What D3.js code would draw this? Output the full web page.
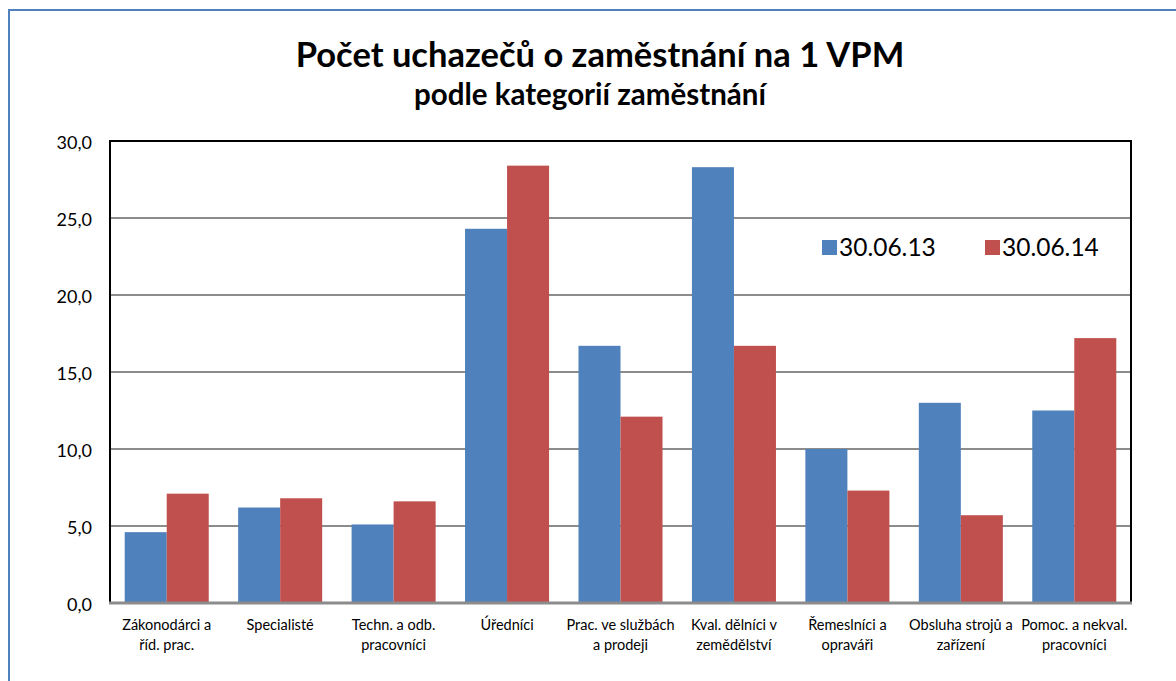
<!DOCTYPE html>
<html>
<head>
<meta charset="utf-8">
<script src="https://cdn.jsdelivr.net/npm/d3@7"></script>
<style>
  body { margin: 0; background: #fff; }
  text { font-family: Lato, "Open Sans", sans-serif; fill: #000; }
</style>
</head>
<body>
<script>
var w = 1176, h = 681;

var categories = [
    ["Zákonodárci a", "říd. prac."],
    ["Specialisté"],
    ["Techn. a odb.", "pracovníci"],
    ["Úředníci"],
    ["Prac. ve službách", "a prodeji"],
    ["Kval. dělníci v", "zemědělství"],
    ["Řemeslníci a", "opraváři"],
    ["Obsluha strojů a", "zařízení"],
    ["Pomoc. a nekval.", "pracovníci"]
];
var seriesNames = ["30.06.13", "30.06.14"];
var values2013 = [4.6, 6.2, 5.1, 24.3, 16.7, 28.3, 10.0, 13.0, 12.5];
var values2014 = [7.1, 6.8, 6.6, 28.4, 12.1, 16.7, 7.3, 5.7, 17.2];
var yTicks = [0, 5, 10, 15, 20, 25, 30];
var colors = ["#4f81bd", "#c0504d"];

var svg = d3.select("body")
    .append("svg")
    .attr("width", w)
    .attr("height", h);

// outer frame
svg.append("rect")
    .attr("x", 9)
    .attr("y", 10)
    .attr("width", w + 20)
    .attr("height", h + 20)
    .style("fill", "#fff")
    .style("stroke", "#4f81bd")
    .style("stroke-width", 2);

var plotL = 110, plotR = 1131, plotT = 141, plotB = 603;

var x = d3.scaleBand()
    .domain(d3.range(categories.length))
    .range([plotL, plotR])
    .paddingInner(0)
    .paddingOuter(0);

// two bars per category, gap on both sides
var inner = d3.scaleBand()
    .domain([0, 1])
    .range([0, x.bandwidth()])
    .paddingOuter(0.35)
    .paddingInner(0);

var y = d3.scaleLinear()
    .domain([0, 30])
    .range([plotB, plotT]);

// gridlines
svg.selectAll(".grid")
    .data(yTicks.slice(1, -1))
    .enter()
    .append("line")
    .attr("class", "grid")
    .attr("x1", plotL)
    .attr("x2", plotR)
    .attr("y1", function(d){ return y(d); })
    .attr("y2", function(d){ return y(d); })
    .style("stroke", "#8c8c8c")
    .style("stroke-width", 2);

// bars
var rows = categories.map(function(c, i){
    return [values2013[i], values2014[i]];
});

var groups = svg.selectAll(".group")
    .data(rows)
    .enter()
    .append("g")
    .attr("class", "group")
    .attr("transform", function(d, i){ return "translate(" + x(i) + ",0)"; });

groups.selectAll("rect")
    .data(function(d){ return d; })
    .enter()
    .append("rect")
    .attr("x", function(d, j){ return inner(j); })
    .attr("y", function(d){ return y(d); })
    .attr("width", inner.bandwidth())
    .attr("height", function(d){ return y(0) - y(d); })
    .style("fill", function(d, j){ return colors[j]; });

// plot border: left, top, right black
svg.append("path")
    .attr("d", "M" + plotL + "," + plotB + "V" + plotT + "H" + plotR + "V" + plotB)
    .style("fill", "none")
    .style("stroke", "#000")
    .style("stroke-width", 2);

// x axis line
svg.append("line")
    .attr("x1", plotL - 1)
    .attr("x2", plotR + 1)
    .attr("y1", plotB)
    .attr("y2", plotB)
    .style("stroke", "#8c8c8c")
    .style("stroke-width", 3);

// y axis labels
var yAxis = d3.axisLeft(y)
    .tickValues(yTicks)
    .tickSize(0)
    .tickPadding(18)
    .tickFormat(function(d){ return d3.format(".1f")(d).replace(".", ","); });

var ya = svg.append("g")
    .attr("transform", "translate(" + plotL + ",2)")
    .call(yAxis);
ya.select(".domain").remove();
ya.selectAll("text")
    .style("font-size", "18px")
    .style("font-family", "Lato, sans-serif")
    .style("fill", "#000");

// x labels
var xl = svg.selectAll(".xlabel")
    .data(categories)
    .enter()
    .append("text")
    .attr("class", "xlabel")
    .attr("text-anchor", "middle")
    .attr("y", 630)
    .style("font-size", "14.5px");

xl.selectAll("tspan")
    .data(function(d){ return d; })
    .enter()
    .append("tspan")
    .attr("x", function(d, j, nodes){
        var i = categories.indexOf(d3.select(nodes[j].parentNode).datum());
        return x(i) + x.bandwidth() / 2;
    })
    .attr("dy", function(d, j){ return j === 0 ? 0 : 20; })
    .text(function(d){ return d; });

// title
svg.append("text")
    .attr("x", 600)
    .attr("y", 67)
    .attr("text-anchor", "middle")
    .style("font-size", "34.5px")
    .style("font-weight", "bold")
    .text("Počet uchazečů o zaměstnání na 1 VPM");

svg.append("text")
    .attr("x", 590)
    .attr("y", 105)
    .attr("text-anchor", "middle")
    .style("font-size", "29.5px")
    .style("font-weight", "bold")
    .text("podle kategorií zaměstnání");

// legend
var legendX = [822, 985];
var legend = svg.selectAll(".legend")
    .data(seriesNames)
    .enter()
    .append("g")
    .attr("class", "legend")
    .attr("transform", function(d, i){ return "translate(" + legendX[i] + ",240)"; });

legend.append("rect")
    .attr("width", 15)
    .attr("height", 15)
    .style("fill", function(d, i){ return colors[i]; });

legend.append("text")
    .attr("x", 17)
    .attr("y", 16)
    .style("font-size", "24.5px")
    .text(function(d){ return d; });
</script>
</body>
</html>
